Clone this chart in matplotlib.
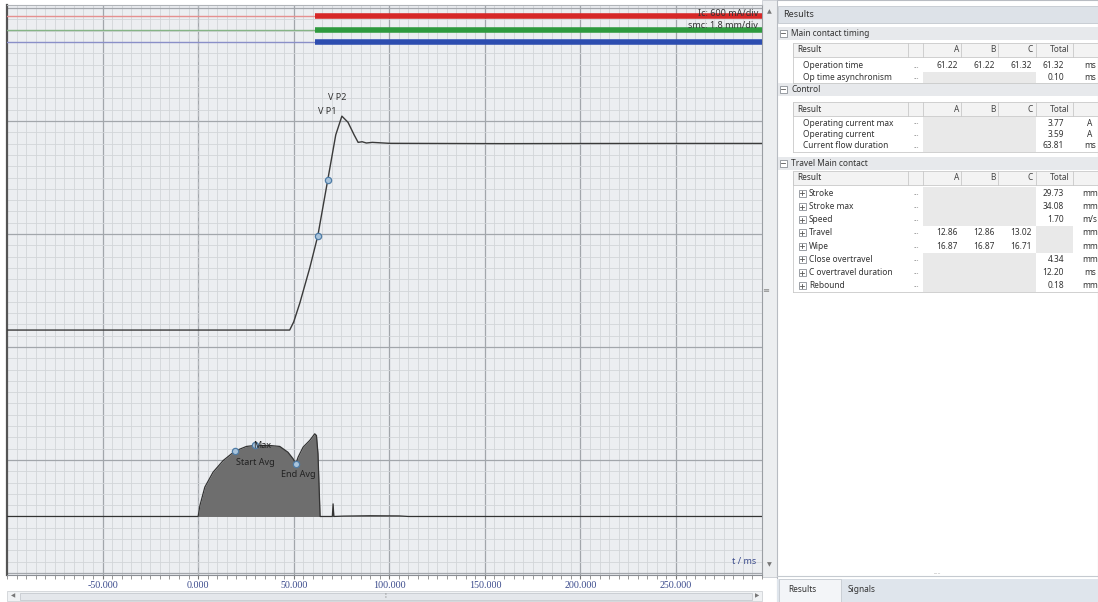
import numpy as np
import matplotlib.pyplot as plt
from matplotlib.patches import Rectangle
from matplotlib.ticker import MultipleLocator, FixedLocator, FuncFormatter

plt.rcParams['font.family'] = ['Noto Sans', 'DejaVu Sans']

W, H = 1098, 602
dpi = 100

###############################################################################
### Recorded signals
###############################################################################

# contact travel (mm, relative to open position) over time (ms)
travel_t = [-100, 47.9, 50.0, 53.2, 58.4, 62.6, 67.8, 72.0, 75.2, 78.4, 81.6,
            83.7, 85.8, 88.0, 91.1, 100, 120, 160, 200, 250, 295]
travel_mm = [0, 0, 1.3, 4.3, 9.9, 15.0, 23.9, 31.1, 34.08, 33.1, 31.1,
             29.9, 30.0, 29.8, 29.9, 29.75, 29.73, 29.7, 29.72, 29.73, 29.73]
speed_t = [62.6, 67.8]      # V P1 / V P2
speed_mm = [15.0, 23.9]

# coil current (A)
coil_t = [-100, 0, 0.9, 3.5, 7.8, 13.1, 19.2, 25.3, 29.6, 37.5, 42.7, 47.0,
          49.7, 51.1, 52.3, 54.9, 58.4, 61.0, 61.9, 62.7, 63.8, 64.5, 70.2,
          70.6, 71.0, 76, 90, 105, 110, 295]
coil_a = [0, 0, 0.57, 1.56, 2.35, 2.97, 3.47, 3.72, 3.77, 3.77, 3.72, 3.41,
          3.06, 2.80, 3.15, 3.68, 4.04, 4.39, 4.30, 3.33, 0, 0, 0,
          0.67, 0, 0.02, 0.04, 0.03, 0, 0]
coil_marks = ['Start Avg', 'Max', 'End Avg']
coil_mark_t = [19.2, 29.6, 51.1]
coil_mark_a = [3.47, 3.77, 2.80]

# main contact closing instants (ms)
phases = ['A', 'B', 'C']
close_t = [61.22, 61.22, 61.32]

# channel scaling
TRAVEL_DIV, TRAVEL_ZERO = 1.8, 21.5   # mm/div
COIL_DIV, COIL_ZERO = 0.6, 5.0        # A/div
phase_rows = [49.3, 48.05, 47.0]
phase_thin = ['#e59090', '#86b486', '#8a8fc8']
phase_thick = ['#d62828', '#2e9a3e', '#2d4db0']
time_ticks = [-50, 0, 50, 100, 150, 200, 250]

###############################################################################
### Results table
###############################################################################

timing_rows = ['Operation time', 'Op time asynchronism']
timing_vals = [['61.22', '61.22', '61.32', '61.32'], ['', '', '', '0.10']]
timing_units = ['ms', 'ms']

control_rows = ['Operating current max', 'Operating current', 'Current flow duration']
control_vals = [['', '', '', '3.77'], ['', '', '', '3.59'], ['', '', '', '63.81']]
control_units = ['A', 'A', 'ms']

travel_rows = ['Stroke', 'Stroke max', 'Speed', 'Travel', 'Wipe',
               'Close overtravel', 'C overtravel duration', 'Rebound']
travel_vals = [['', '', '', '29.73'], ['', '', '', '34.08'], ['', '', '', '1.70'],
               ['12.86', '12.86', '13.02', ''], ['16.87', '16.87', '16.71', ''],
               ['', '', '', '4.34'], ['', '', '', '12.20'], ['', '', '', '0.18']]
travel_units = ['mm', 'mm', 'm/s', 'mm', 'mm', 'mm', 'ms', 'mm']

fig = plt.figure(figsize=(W / dpi, H / dpi), dpi=dpi, facecolor='white')

# pixel-space layer for the window chrome
ui = fig.add_axes([0, 0, 1, 1], zorder=0)
ui.set_xlim(0, W)
ui.set_ylim(H, 0)
ui.axis('off')

ax = fig.add_axes([7 / W, (H - 575) / H, 755 / W, 570 / H], zorder=2)
ax.set_facecolor('#eceef1')
ax.set_xlim(-100, 295)
ax.set_ylim(-0.18, 50.27)
ax.xaxis.set_major_locator(FixedLocator(time_ticks))
ax.xaxis.set_minor_locator(MultipleLocator(5))
ax.yaxis.set_major_locator(MultipleLocator(10))
ax.yaxis.set_minor_locator(MultipleLocator(1))
ax.grid(which='minor', color='#d2d5d9', lw=0.6)
ax.grid(which='major', color='#a2a6ab', lw=0.9)
ax.set_axisbelow(True)
ax.tick_params(axis='y', which='both', left=False, labelleft=False)
ax.tick_params(axis='x', which='major', direction='out', length=3, color='#777777',
               labelsize=7.2, labelcolor='#3a4a8c', pad=1.5)
ax.tick_params(axis='x', which='minor', direction='out', length=3, color='#888888')
ax.xaxis.set_major_formatter(FuncFormatter(lambda v, p: f'{v:.3f}'))
for lab in ax.get_xticklabels():
    lab.set_family(['Liberation Serif', 'DejaVu Serif'])
ax.spines['left'].set_color('#555555')
ax.spines['left'].set_linewidth(1.6)
ax.spines['bottom'].set_color('#8a8e94')
ax.spines['top'].set_color('#b0b4b8')
ax.spines['right'].set_color('#9a9ea3')

ax.axvline(0, ls=(0, (4, 3)), color='#b5b8bc', lw=0.8, zorder=1)

# contact channels: thin while open, thick once closed
for row, tc, c1, c2 in zip(phase_rows, close_t, phase_thin, phase_thick):
    ax.plot([-100, 295], [row, row], color=c1, lw=1.0, zorder=3)
    ax.plot([tc, 295], [row, row], color=c2, lw=4.0, solid_capstyle='butt', zorder=4)

# travel curve
y_travel = TRAVEL_ZERO + np.array(travel_mm) / TRAVEL_DIV
ax.plot(travel_t, y_travel, color='#3a3a3a', lw=1.0, zorder=5)
y_speed = TRAVEL_ZERO + np.array(speed_mm) / TRAVEL_DIV
ax.plot(speed_t, y_speed, 'o', ms=4.5, mfc='#a9c4dc', mec='#4f7ca6', mew=0.9, zorder=6)
ax.text(speed_t[0], 40.8, 'V P1', fontsize=6.5, color='#333333', va='center', zorder=6)
ax.text(speed_t[1], 42.1, 'V P2', fontsize=6.5, color='#333333', va='center', zorder=6)

# coil current
y_coil = COIL_ZERO + np.array(coil_a) / COIL_DIV
ax.fill_between(coil_t, COIL_ZERO, y_coil, color='#6e6e6e', lw=0, zorder=4)
ax.plot(coil_t, y_coil, color='#333333', lw=0.9, zorder=5)
y_marks = COIL_ZERO + np.array(coil_mark_a) / COIL_DIV
ax.plot(coil_mark_t, y_marks, 'o', ms=4.5, mfc='#a9c4dc', mec='#4f7ca6', mew=0.9, zorder=6)
ax.annotate(coil_marks[0], (coil_mark_t[0], y_marks[0]), xytext=(1, -8),
            textcoords='offset points', fontsize=6.5, color='#222222', va='center', zorder=7)
ax.annotate(coil_marks[1], (coil_mark_t[1], y_marks[1]), xytext=(-1, 0),
            textcoords='offset points', fontsize=6.5, color='#222222', va='center', zorder=7)
ax.annotate(coil_marks[2], (coil_mark_t[2], y_marks[2]), xytext=(-11, -8),
            textcoords='offset points', fontsize=6.5, color='#222222', va='center', zorder=7)

ax.text(0.992, 0.015, 't / ms', transform=ax.transAxes, ha='right', va='bottom',
        fontsize=6.5, color='#3a4a8c', zorder=7)

# channel scale notes
fig.text(758 / W, 1 - 13.5 / H, 'Ic: 600 mA/div', ha='right', va='center', fontsize=6.5, color='#333333')
fig.text(758 / W, 1 - 25.5 / H, 'smc: 1.8 mm/div', ha='right', va='center', fontsize=6.5, color='#333333')

# scroll bars around the plot
ui.add_patch(Rectangle((762, 0), 15, 577, fc='#eceef0', ec='#c8ccd1', lw=0.6))
ui.text(769.5, 12, '▲', fontsize=4.5, ha='center', va='center', color='#777777')
ui.text(769.5, 565, '▼', fontsize=4.5, ha='center', va='center', color='#777777')
ui.text(766, 290, '≡', fontsize=6, ha='center', va='center', color='#888888')
ui.add_patch(Rectangle((7, 591), 755, 10, fc='#f0f2f4', ec='#d0d3d7', lw=0.6))
ui.add_patch(Rectangle((20, 593), 732, 7, fc='#e4e7eb', ec='#c6cacf', lw=0.6))
ui.text(13, 596, '◀', fontsize=4, ha='center', va='center', color='#777777')
ui.text(757, 596, '▶', fontsize=4, ha='center', va='center', color='#777777')
ui.text(385, 596, '⁞', fontsize=5, ha='center', va='center', color='#888888')

###############################################################################
### Results panel
###############################################################################

ui.add_patch(Rectangle((777, 0), W - 777, H, fc='white', ec='#b8bcc2', lw=0.8))
ui.add_patch(Rectangle((778, 6), W - 778, 17, fc='#dde2e8', ec='#c3c8ce', lw=0.6))
ui.text(783, 14.5, 'Results', fontsize=6.5, va='center', color='#333333')

txt = dict(fontsize=6, va='center', color='#333333')
col_div = [908, 923, 961, 998, 1036, 1073]
col_right = [958, 995, 1032, 1064]


def tree_box(x, y, minus):
    ui.add_patch(Rectangle((x - 3.5, y - 3.5), 7, 7, fc='white', ec='#8a8f96', lw=0.6))
    ui.plot([x - 2, x + 2], [y, y], color='#555555', lw=0.6)
    if not minus:
        ui.plot([x, x], [y - 2, y + 2], color='#555555', lw=0.6)


def section(y, hy, y0, rh, title, names, vals, units, expand):
    ui.add_patch(Rectangle((778, y - 6.5), W - 778, 13, fc='#e7e9ec', ec='none'))
    tree_box(783, y, True)
    ui.text(791, y, title, **txt)
    ui.add_patch(Rectangle((793, hy - 7), W - 793, 14, fc='#f3f3f3', ec='#c9c9c9', lw=0.6))
    ui.text(797, hy, 'Result', **txt)
    for x in col_div:
        ui.plot([x, x], [hy - 7, hy + 7], color='#c9c9c9', lw=0.6)
    for x, h in zip([959, 996, 1033, 1070], ['A', 'B', 'C', 'Total']):
        ui.text(x, hy, h, ha='right', fontsize=6, va='center', color='#444444')
    for i, (name, v, u) in enumerate(zip(names, vals, units)):
        ry = y0 + rh * i
        if not any(v[:3]):
            ui.add_patch(Rectangle((923, ry - rh / 2), 113, rh, fc='#e9e9e9', ec='none'))
        if not v[3]:
            ui.add_patch(Rectangle((1036, ry - rh / 2), 37, rh, fc='#e9e9e9', ec='none'))
        if expand:
            tree_box(802, ry, False)
            ui.text(809, ry, name, **txt)
        else:
            ui.text(803, ry, name, **txt)
        ui.text(916, ry, '...', ha='center', fontsize=5, va='center', color='#888888')
        for x, s in zip(col_right, v):
            ui.text(x, ry, s, ha='right', **txt)
        ui.text(1090, ry, u, ha='center', **txt)
    yb = y0 + rh * (len(names) - 0.5)
    ui.plot([793, 793], [hy - 7, yb], color='#c9c9c9', lw=0.6)
    ui.plot([793, W], [yb, yb], color='#c9c9c9', lw=0.6)


section(33, 50, 66, 11.3, 'Main contact timing', timing_rows, timing_vals, timing_units, False)
section(89, 109, 123, 11.5, 'Control', control_rows, control_vals, control_units, False)
section(163, 178, 193.3, 13.2, 'Travel Main contact', travel_rows, travel_vals, travel_units, True)

# tab strip
ui.plot([777, W], [576, 576], color='#c5cad0', lw=0.8)
ui.text(937, 573, '.....', fontsize=4, ha='center', va='center', color='#999999')
ui.add_patch(Rectangle((777, 579), W - 777, 23, fc='#dfe5ec', ec='none'))
ui.add_patch(Rectangle((779, 579), 62, 23, fc='#f3f5f8', ec='#c5cad0', lw=0.6))
ui.text(788, 590, 'Results', **txt)
ui.text(848, 590, 'Signals', **txt)

fig.savefig('out.png', dpi=dpi, facecolor=fig.get_facecolor())
